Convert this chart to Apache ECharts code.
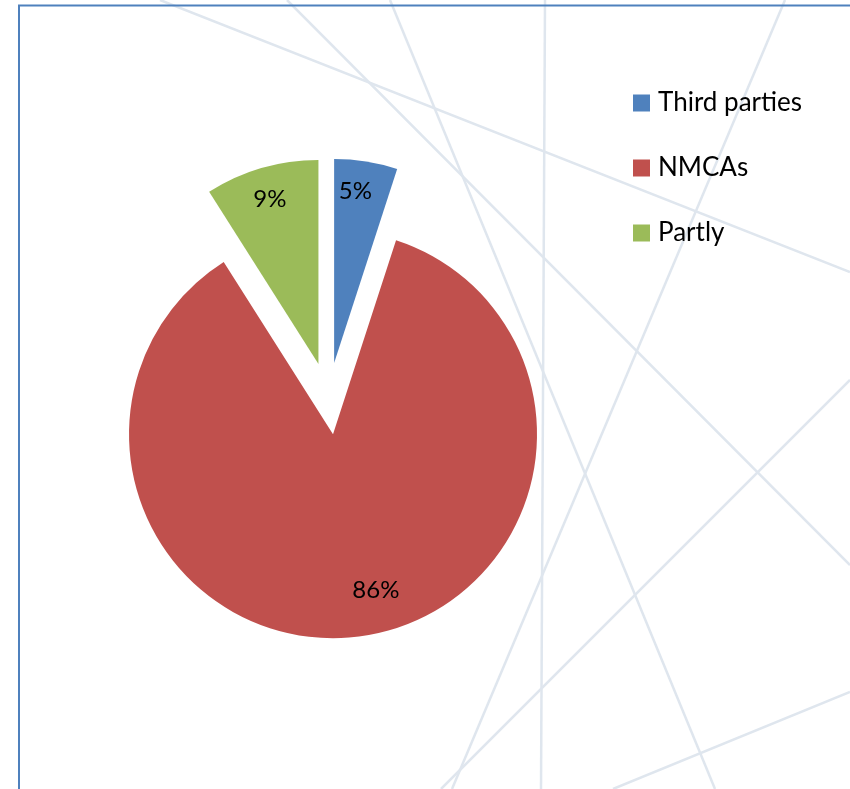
<!DOCTYPE html>
<html>
<head>
<meta charset="utf-8">
<script src="https://cdn.jsdelivr.net/npm/echarts@6/dist/echarts.min.js"></script>
<style>
  html, body { margin: 0; padding: 0; background: #fff; }
  #chart { width: 850px; height: 789px; }
</style>
</head>
<body>
<div id="chart"></div>
<script>
// donnees du graphique
const categories = ['Third parties', 'NMCAs', 'Partly'];
const shares = [5, 86, 9];

const colorPalette = ['#4f81bd', '#c0504d', '#9bbb59'];
// petit decalage des etiquettes (style), comme dans Excel
const labelNudge = [[-6, 1], [21, -17], [0, 3]];

// lignes decoratives du fond de page (pas des donnees)
const backdropLines = [
    [160, 0, 850, 272],
    [287, 0, 850, 565],
    [390, 0, 715, 789],
    [545, 0, 541, 789],
    [785, 0, 452, 789],
    [850, 380, 441, 789],
    [850, 692, 613, 789]
];

document.addEventListener('DOMContentLoaded', function() {
    showPie(categories, shares);
});

function showPie(names, values) {
    var chartDom = document.getElementById('chart');
    var myChart = echarts.init(chartDom);
    var option;

    var pieCenter = [328.5, 398.5];
    var pieRadius = 204;

    var slices = names.map(function(name, i) {
        return { name: name, value: values[i], selected: true };
    });

    var graphics = backdropLines.map(function(l) {
        return {
            type: 'line',
            z: -10,
            silent: true,
            shape: { x1: l[0], y1: l[1], x2: l[2], y2: l[3] },
            style: { stroke: '#dfe6ee', lineWidth: 2.5 }
        };
    });
    // cadre bleu en haut et a gauche
    graphics.push({
        type: 'polyline',
        z: 100,
        silent: true,
        shape: { points: [[19, 789], [19, 5.5], [850, 5.5]] },
        style: { stroke: '#4f81bd', lineWidth: 2, fill: null }
    });

    option = {
        animation: false,
        backgroundColor: '#ffffff',
        color: colorPalette,
        graphic: graphics,
        legend: {
            orient: 'vertical',
            left: 633,
            top: 90,
            padding: 0,
            icon: 'rect',
            itemWidth: 17,
            itemHeight: 17,
            itemGap: 39,
            selectedMode: false,
            data: names,
            textStyle: {
                fontFamily: 'Lato',
                fontSize: 26,
                color: '#000',
                padding: [0, 0, 0, 3]
            }
        },
        series: [
            {
                name: 'Parts',
                type: 'pie',
                center: pieCenter,
                radius: pieRadius,
                startAngle: 90,
                clockwise: true,
                selectedMode: 'multiple',
                selectedOffset: 36,
                label: { show: false },
                labelLine: { show: false },
                emphasis: { disabled: true },
                itemStyle: { borderWidth: 0 },
                data: slices
            },
            {
                // anneau invisible qui sert seulement a placer les etiquettes
                name: 'Etiquettes',
                type: 'pie',
                silent: true,
                center: pieCenter,
                radius: [pieRadius * 0.68, pieRadius],
                startAngle: 90,
                clockwise: true,
                selectedMode: 'multiple',
                selectedOffset: 36,
                itemStyle: { color: 'rgba(0,0,0,0)' },
                labelLine: { show: false },
                emphasis: { disabled: true },
                label: {
                    show: true,
                    position: 'inside',
                    color: '#000',
                    fontFamily: 'Lato',
                    fontSize: 24,
                    formatter: function(p) { return p.value + '%'; }
                },
                labelLayout: function(params) {
                    var n = labelNudge[params.dataIndex];
                    return { dx: n[0], dy: n[1] };
                },
                data: slices
            }
        ]
    };

    option && myChart.setOption(option);
}
</script>
</body>
</html>
